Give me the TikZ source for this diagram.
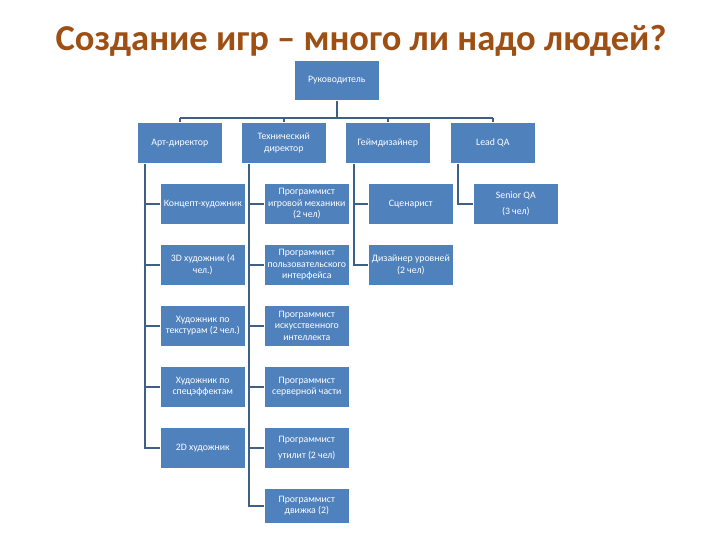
\documentclass[tikz,border=0pt]{standalone}
\usepackage{fontspec}
\setmainfont{Carlito}
\definecolor{titlec}{HTML}{9E4F14}
\definecolor{boxc}{HTML}{4F81BD}
\definecolor{linec}{HTML}{3F5F85}
\begin{document}
\begin{tikzpicture}[x=1pt,y=-1pt,
  bx/.style={draw=white,line width=0.6pt,fill=boxc,text=white,minimum width=85pt,minimum height=41pt,inner sep=0pt,align=center,font=\fontsize{9.8}{11.5}\selectfont,anchor=north west},
  ln/.style={draw=linec,line width=1.6pt}]
\useasboundingbox (0,0) rectangle (720,540);
\node[text=titlec,font=\fontsize{36.5}{40}\bfseries] (title) at (361,41) {Создание игр – много ли надо людей?};
% root
\node[bx,minimum width=85pt,minimum height=40pt] (root) at (294,60) {Руководитель};
% level 1
\node[bx] (art) at (137,122) {Арт-директор};
\node[bx] (tech) at (241,122) {Технический\\директор};
\node[bx] (gd) at (345,122) {Геймдизайнер};
\node[bx] (qa) at (450,122) {Lead QA};
\coordinate (bus) at (0,118);
\draw[ln] (root.south) -- (root.south |- bus);
\draw[ln] (art.north |- bus) -- (qa.north |- bus);
\foreach \n in {art,tech,gd,qa} \draw[ln] (\n.north |- bus) -- (\n.north);
% art column
\node[bx] (a1) at (160,183) {Концепт-художник};
\node[bx] (a2) at (160,244) {3D художник (4\\чел.)};
\node[bx] (a3) at (160,305) {Художник по\\текстурам (2 чел.)};
\node[bx] (a4) at (160,366) {Художник по\\спецэффектам};
\node[bx] (a5) at (160,427) {2D художник};
% tech column
\node[bx] (t1) at (264,183) {Программист\\игровой механики\\(2 чел)};
\node[bx] (t2) at (264,244) {Программист\\пользовательского\\интерфейса};
\node[bx] (t3) at (264,305) {Программист\\искусственного\\интеллекта};
\node[bx] (t4) at (264,366) {Программист\\серверной части};
\node[bx,font=\fontsize{9.8}{16}\selectfont] (t5) at (264,427) {Программист\\утилит (2 чел)};
\node[bx,minimum height=35pt] (t6) at (264,488) {Программист\\движка (2)};
% gd column
\node[bx] (g1) at (368,183) {Сценарист};
\node[bx] (g2) at (368,244) {Дизайнер уровней\\(2 чел)};
% qa column
\node[bx,font=\fontsize{9.8}{16}\selectfont] (q1) at (473,183) {Senior QA\\(3 чел)};
% column lines
\coordinate (ax) at (145,0);
\coordinate (tx) at (249,0);
\coordinate (gx) at (354,0);
\coordinate (qx) at (458,0);
\draw[ln] (ax |- art.south) -- (ax |- a5.west) -- (a5.west);
\foreach \n in {a1,a2,a3,a4} \draw[ln] (ax |- \n.west) -- (\n.west);
\draw[ln] (tx |- tech.south) -- (tx |- t6.west) -- (t6.west);
\foreach \n in {t1,t2,t3,t4,t5} \draw[ln] (tx |- \n.west) -- (\n.west);
\draw[ln] (gx |- gd.south) -- (gx |- g2.west) -- (g2.west);
\draw[ln] (gx |- g1.west) -- (g1.west);
\draw[ln] (qx |- qa.south) -- (qx |- q1.west) -- (q1.west);
\end{tikzpicture}
\end{document}
